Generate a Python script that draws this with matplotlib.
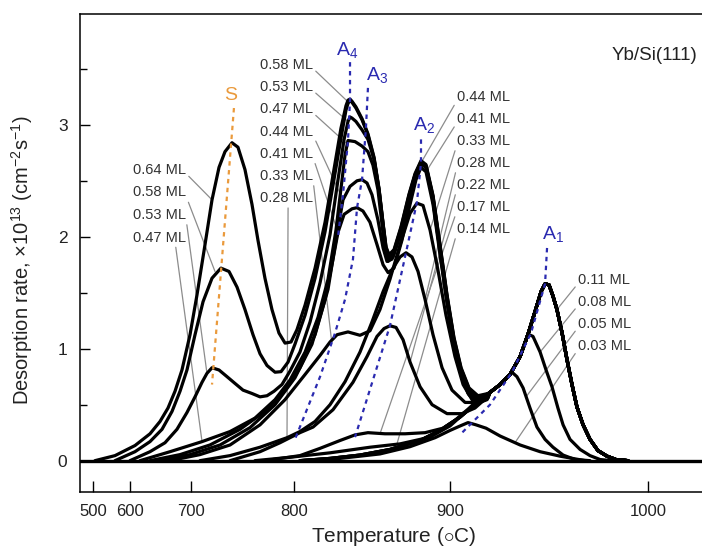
import numpy as np
import matplotlib
matplotlib.use('Agg')
import matplotlib.pyplot as plt
from matplotlib.ticker import MultipleLocator

plt.rcParams['font.family'] = ['Liberation Sans', 'DejaVu Sans']
plt.rcParams['mathtext.fontset'] = 'custom'
plt.rcParams['mathtext.rm'] = 'Liberation Sans'
plt.rcParams['mathtext.it'] = 'Liberation Sans:italic'
plt.rcParams['mathtext.bf'] = 'Liberation Sans:bold'

# ---- TDS spectra: temperature (C) and desorption rate (1e13 cm^-2 s^-1) ----
# A1 leading edge and A1 peak shared by all coverages from 0.11 ML up
a1_edge_T = [803.8, 823.1, 842.3, 861.5, 880.8, 893.6, 905.1, 915.2]
a1_edge_r = [0.0, 0.02, 0.05, 0.10, 0.18, 0.27, 0.39, 0.54]
a1_tail_T = [920.2, 925.3, 930.3, 935.4, 939.4, 942.9, 946.0, 948.0, 950.0, 952.0,
             954.0, 956.6, 959.1, 961.6, 964.1, 967.2, 970.7, 974.7, 979.3, 983.8, 989.9]
a1_tail_r = [0.61, 0.68, 0.77, 0.93, 1.13, 1.33, 1.51, 1.58, 1.57, 1.47,
             1.35, 1.14, 0.90, 0.68, 0.48, 0.32, 0.19, 0.09, 0.04, 0.01, 0.0]

t_003 = [803.8, 829.5, 855.1, 874.4, 890.4, 900.0, 905.1, 909.1, 913.1, 918.2,
         925.3, 935.4, 945.5, 955.6, 968.2]
r_003 = [0.0, 0.02, 0.06, 0.125, 0.205, 0.27, 0.31, 0.34, 0.32, 0.29,
         0.22, 0.14, 0.08, 0.04, 0.0]

t_005 = a1_edge_T + [920.2, 925.3, 928.3, 931.3, 933.8, 936.9, 940.4, 943.9, 948.0,
                     952.0, 957.1, 963.1, 970.7]
r_005 = a1_edge_r + [0.61, 0.68, 0.73, 0.79, 0.75, 0.65, 0.47, 0.30, 0.19,
                     0.12, 0.05, 0.01, 0.0]

t_008 = a1_edge_T + [920.2, 925.3, 930.3, 935.4, 939.4, 941.9, 945.5, 948.5, 951.5,
                     954.5, 957.1, 960.6, 965.7, 970.7, 975.8, 981.8]
r_008 = a1_edge_r + [0.61, 0.68, 0.77, 0.93, 1.13, 1.11, 0.97, 0.81, 0.66,
                     0.47, 0.32, 0.19, 0.10, 0.045, 0.01, 0.0]

t_011 = a1_edge_T + a1_tail_T
r_011 = a1_edge_r + a1_tail_r

t_014 = [762.1, 796.1, 823.1, 848.7, 868.0, 887.2, 900.0, 907.6, 915.2] + a1_tail_T
r_014 = [0.0, 0.03, 0.07, 0.12, 0.15, 0.21, 0.31, 0.43, 0.55] + a1_tail_r

t_017 = [771.8, 803.8, 816.7, 829.5, 839.1, 847.4, 858.3, 871.2, 884.0, 895.5,
         902.5, 909.1, 915.2] + a1_tail_T
r_017 = [0.0, 0.045, 0.11, 0.18, 0.23, 0.25, 0.24, 0.24, 0.25, 0.29,
         0.36, 0.46, 0.56] + a1_tail_r

t_022 = [737.9, 767.0, 786.4, 803.8, 812.2, 825.0, 837.8, 846.8, 853.2, 857.7,
         861.5, 865.4, 869.9, 874.4, 880.8, 888.5, 898.1, 906.1, 912.6, 917.7] + a1_tail_T
r_022 = [0.0, 0.08, 0.16, 0.25, 0.30, 0.455, 0.70, 0.93, 1.11, 1.18,
         1.205, 1.19, 1.08, 0.88, 0.66, 0.50, 0.42, 0.42, 0.47, 0.55] + a1_tail_r

t_028 = [708.7, 737.9, 767.0, 793.2, 803.8, 813.5, 823.1, 832.7, 842.3, 850.0,
         857.1, 863.5, 868.0, 871.8, 875.6, 879.5, 884.0, 889.1, 894.9, 901.0,
         907.6, 914.1, 918.7] + a1_tail_T
r_028 = [0.0, 0.045, 0.12, 0.205, 0.26, 0.35, 0.50, 0.705, 0.97, 1.24,
         1.51, 1.72, 1.82, 1.857, 1.82, 1.69, 1.44, 1.125, 0.83, 0.63,
         0.52, 0.52, 0.56] + a1_tail_r

t_033 = [665.6, 708.7, 737.9, 767.0, 791.3, 807.1, 816.7, 823.1, 827.6, 834.6,
         842.3, 848.7, 855.1, 861.5, 868.0, 874.4, 878.8, 882.7, 887.2, 892.3,
         897.4, 902.5, 906.6, 911.1, 916.2] + a1_tail_T
r_033 = [0.0, 0.054, 0.14, 0.32, 0.545, 0.77, 0.94, 1.06, 1.125, 1.15,
         1.12, 1.16, 1.35, 1.62, 1.93, 2.21, 2.30, 2.28, 2.06, 1.70,
         1.30, 0.93, 0.68, 0.545, 0.54] + a1_tail_r

t_041 = [649.2, 698.4, 728.2, 757.3, 781.6, 800.6, 811.5, 819.9, 825.0, 828.2,
         832.1, 837.2, 840.4, 844.2, 848.7, 853.2, 857.1, 860.3, 864.1, 869.2,
         874.4, 878.2, 881.4, 884.6, 889.1, 893.6, 898.1, 902.0, 905.6, 909.6,
         914.1, 918.7] + a1_tail_T
r_041 = [0.0, 0.054, 0.14, 0.295, 0.50, 0.74, 1.04, 1.44, 1.80, 2.04,
         2.20, 2.25, 2.26, 2.23, 2.13, 1.93, 1.75, 1.68, 1.72, 1.97,
         2.29, 2.51, 2.62, 2.58, 2.29, 1.84, 1.41, 1.04, 0.77, 0.59,
         0.52, 0.55] + a1_tail_r

t_044 = [632.8, 682.0, 718.4, 747.6, 771.8, 791.3, 803.8, 813.5, 821.8, 826.9,
         831.4, 835.9, 840.4, 843.6, 846.8, 850.0, 853.8, 857.1, 859.6, 862.8,
         868.0, 873.1, 877.6, 881.4, 884.6, 888.5, 893.0, 897.4, 901.5, 905.1,
         909.1, 913.6, 918.7] + a1_tail_T
r_044 = [0.0, 0.054, 0.14, 0.28, 0.44, 0.63, 0.83, 1.125, 1.53, 1.97,
         2.33, 2.45, 2.50, 2.51, 2.48, 2.375, 2.15, 1.90, 1.78, 1.80,
         2.01, 2.29, 2.53, 2.66, 2.625, 2.375, 1.93, 1.48, 1.08, 0.795,
         0.60, 0.51, 0.545] + a1_tail_r

t_047 = [616.4, 665.6, 710.7, 737.9, 762.1, 781.6, 796.1, 807.1, 815.4, 821.8,
         826.9, 830.8, 832.7, 834.6, 839.1, 843.6, 847.4, 850.6, 853.8, 856.4,
         858.3, 860.3, 863.5, 868.6, 873.7, 877.6, 881.4, 884.6, 889.1, 893.6,
         898.1, 902.0, 905.6, 909.6, 914.1, 919.2] + a1_tail_T
r_047 = [0.0, 0.08, 0.17, 0.26, 0.38, 0.545, 0.72, 0.97, 1.28, 1.62,
         2.06, 2.51, 2.73, 2.86, 2.85, 2.81, 2.76, 2.64, 2.42, 2.11,
         1.88, 1.78, 1.82, 2.05, 2.33, 2.54, 2.65, 2.62, 2.33, 1.88,
         1.44, 1.05, 0.79, 0.61, 0.54, 0.56] + a1_tail_r

t_053 = [600.0, 632.8, 657.4, 677.0, 693.4, 703.9, 710.7, 715.5, 720.4, 727.2,
         735.0, 742.7, 750.5, 759.2, 767.0, 773.8, 780.6, 788.3, 796.1, 803.8,
         810.3, 816.7, 823.1, 828.2, 832.1, 834.6, 835.9, 837.2, 839.7, 843.6,
         847.4, 851.3, 854.5, 857.1, 859.0, 860.9, 864.1, 868.6, 873.7, 877.6,
         881.4, 884.6, 889.1, 893.6, 898.1, 902.0, 905.6, 909.6, 914.1, 919.2] + a1_tail_T
r_053 = [0.0, 0.08, 0.16, 0.28, 0.43, 0.57, 0.70, 0.78, 0.83, 0.81,
         0.75, 0.69, 0.63, 0.60, 0.57, 0.58, 0.62, 0.68, 0.80, 0.97,
         1.24, 1.59, 2.02, 2.51, 2.87, 3.03, 3.07, 3.06, 3.03, 2.955,
         2.87, 2.69, 2.42, 2.11, 1.88, 1.80, 1.85, 2.06, 2.35, 2.55,
         2.66, 2.625, 2.35, 1.90, 1.455, 1.07, 0.80, 0.625, 0.555, 0.57] + a1_tail_r

t_058 = [559.5, 608.2, 632.8, 652.5, 668.9, 682.0, 693.4, 703.9, 711.7, 720.4,
         729.1, 736.9, 744.7, 752.4, 760.2, 767.0, 773.8, 781.6, 787.4, 794.2,
         800.6, 807.1, 813.5, 819.9, 825.6, 830.1, 833.3, 834.6, 835.9, 837.2,
         839.7, 843.6, 847.4, 851.3, 854.5, 857.1, 859.0, 860.9, 864.1, 868.6,
         873.7, 877.6, 881.4, 884.6, 889.1, 893.6, 898.1, 902.0, 905.6, 909.6,
         914.1, 919.2] + a1_tail_T
r_058 = [0.0, 0.08, 0.17, 0.28, 0.44, 0.62, 0.81, 1.125, 1.42, 1.63,
         1.72, 1.69, 1.55, 1.35, 1.125, 0.955, 0.85, 0.79, 0.795, 0.88,
         1.04, 1.30, 1.63, 2.045, 2.51, 2.88, 3.13, 3.19, 3.22, 3.20,
         3.15, 3.045, 2.91, 2.70, 2.42, 2.11, 1.90, 1.83, 1.875, 2.08,
         2.37, 2.555, 2.67, 2.635, 2.36, 1.92, 1.47, 1.09, 0.82, 0.64,
         0.57, 0.59] + a1_tail_r

t_064 = [505.4, 559.5, 608.2, 632.8, 649.2, 662.3, 673.8, 685.2, 698.4, 705.8,
         713.6, 720.4, 727.2, 733.0, 739.8, 745.6, 752.4, 759.2, 765.0, 771.8,
         778.6, 785.4, 791.3, 797.1, 801.9, 807.1, 813.5, 819.9, 825.6, 830.1,
         833.3, 834.6, 835.9, 837.2, 839.7, 843.6, 847.4, 851.3, 854.5, 857.1,
         859.0, 860.9, 864.1, 868.6, 873.7, 877.6, 881.4, 884.6, 889.1, 893.6,
         898.1, 902.0, 905.6, 909.6, 914.1, 919.2] + a1_tail_T
r_064 = [0.0, 0.045, 0.135, 0.24, 0.35, 0.47, 0.62, 0.81, 1.125, 1.48,
         1.93, 2.33, 2.62, 2.76, 2.84, 2.80, 2.60, 2.29, 1.97, 1.63,
         1.35, 1.14, 1.05, 1.06, 1.17, 1.39, 1.72, 2.13, 2.60, 2.97,
         3.17, 3.22, 3.23, 3.21, 3.16, 3.055, 2.92, 2.71, 2.43, 2.12,
         1.91, 1.84, 1.885, 2.09, 2.38, 2.565, 2.68, 2.645, 2.37, 1.93,
         1.48, 1.10, 0.83, 0.65, 0.58, 0.60] + a1_tail_r

spectra = [(t_003, r_003), (t_005, r_005), (t_008, r_008), (t_011, r_011),
           (t_014, r_014), (t_017, r_017), (t_022, r_022), (t_028, r_028),
           (t_033, r_033), (t_041, r_041), (t_044, r_044), (t_047, r_047),
           (t_053, r_053), (t_058, r_058), (t_064, r_064)]

# peak-position guides (S, A4, A3, A2, A1)
s_guide_T = [741.7, 720.4]
s_guide_r = [3.15, 0.68]
a4_guide_T = [835.9, 835.9, 834.6, 831.4, 828.2]
a4_guide_r = [3.56, 3.22, 2.86, 2.375, 2.0]
a3_guide_T = [847.4, 846.1, 843.6, 840.4, 837.8, 832.7, 826.3, 816.7, 800.6]
a3_guide_r = [3.33, 2.97, 2.51, 2.26, 1.80, 1.44, 1.14, 0.75, 0.19]
a2_guide_T = [881.4, 881.4, 878.8, 871.8, 861.5, 839.1]
a2_guide_r = [2.87, 2.66, 2.31, 1.86, 1.205, 0.21]
a1_guide_T = [949.0, 948.0, 940.9, 931.3, 920.2, 906.1]
a1_guide_r = [1.90, 1.58, 1.14, 0.79, 0.50, 0.25]

# coverage labels: text, leader target (T, rate)
mid_labels = ['0.58 ML', '0.53 ML', '0.47 ML', '0.44 ML', '0.41 ML', '0.33 ML', '0.28 ML']
mid_T = [835.0, 834.6, 834.0, 831.4, 828.2, 824.0, 793.2]
mid_r = [3.20, 3.03, 2.83, 2.33, 2.04, 1.08, 0.205]
s_labels = ['0.64 ML', '0.58 ML', '0.53 ML', '0.47 ML']
s_T = [720.4, 723.3, 715.5, 710.7]
s_r = [2.33, 1.69, 0.78, 0.17]
a2_labels = ['0.44 ML', '0.41 ML', '0.33 ML', '0.28 ML', '0.22 ML', '0.17 ML', '0.14 ML']
a2_T = [881.4, 884.6, 887.2, 884.0, 874.4, 855.1, 866.0]
a2_r = [2.66, 2.58, 2.06, 1.44, 0.88, 0.24, 0.15]
a1_labels = ['0.11 ML', '0.08 ML', '0.05 ML', '0.03 ML']
a1_T = [954.0, 945.5, 938.4, 932.8]
a1_r = [1.35, 0.97, 0.57, 0.16]

# temperature axis is not linear: tick temperatures and their spacing along the axis
scale_T = [440, 500, 600, 700, 800, 900, 1000, 1040]
scale_pos = [75, 93, 130, 191, 294, 450, 648, 730]


def t_forward(t):
    return np.interp(t, scale_T, scale_pos)


def t_inverse(p):
    return np.interp(p, scale_pos, scale_T)


W, H = 702, 552
fig = plt.figure(figsize=(W / 100, H / 100), dpi=100)
ax = fig.add_axes([80 / W, 60 / H, 624 / W, 478 / H])
ax.set_xscale('function', functions=(t_forward, t_inverse))
ax.set_xlim(456.7, 1027.3)
ax.set_ylim(-0.28, 3.99)

ax.axhline(0, color='black', lw=2.4, zorder=3)
for T, r in spectra:
    ax.plot(T, r, color='black', lw=2.3, solid_joinstyle='round',
            solid_capstyle='round', zorder=3)

blue = '#2a2ab0'
orange = '#ea9a3c'
dots = (0, (2.0, 2.0))
ax.plot(s_guide_T, s_guide_r, color=orange, lw=1.6, ls=dots, zorder=4)
for gT, gr in [(a4_guide_T, a4_guide_r), (a3_guide_T, a3_guide_r),
               (a2_guide_T, a2_guide_r), (a1_guide_T, a1_guide_r)]:
    ax.plot(gT, gr, color=blue, lw=1.6, ls=dots, zorder=4)


def note(label, T, r, x, y, ha, rel):
    ax.annotate(label, xy=(T, r), xytext=(x, H - y), textcoords='figure pixels',
                ha=ha, va='center', fontsize=10.5, color='#333333', zorder=2,
                arrowprops=dict(arrowstyle='-', color='#8c8c8c', lw=0.9,
                                shrinkA=0, shrinkB=0, relpos=rel))


for i, lab in enumerate(mid_labels):
    rel = (0.53, 0.0) if lab == '0.28 ML' else (1.0, 0.25)
    note(lab, mid_T[i], mid_r[i], 313, 65 + 22.2 * i, 'right', rel)
for i, lab in enumerate(s_labels):
    rel = (0.8, 0.0) if i == 3 else (1.0, 0.25)
    note(lab, s_T[i], s_r[i], 186, 170 + 22.5 * i, 'right', rel)
for i, lab in enumerate(a2_labels):
    note(lab, a2_T[i], a2_r[i], 457, 97 + 22 * i, 'left', (0.0, 0.25))
for i, lab in enumerate(a1_labels):
    note(lab, a1_T[i], a1_r[i], 578, 280 + 22 * i, 'left', (0.0, 0.25))


def fig_text(x, y, s, **kw):
    fig.text(x / W, 1 - y / H, s, **kw)


fig_text(231, 96, 'S', color=orange, fontsize=14, ha='center', va='center')
fig_text(347, 50, r'A$_4$', color=blue, fontsize=14, ha='center', va='center')
fig_text(377, 75, r'A$_3$', color=blue, fontsize=14, ha='center', va='center')
fig_text(424, 125, r'A$_2$', color=blue, fontsize=14, ha='center', va='center')
fig_text(553, 234, r'A$_1$', color=blue, fontsize=14, ha='center', va='center')
fig_text(697, 55, 'Yb/Si(111)', color='#222222', fontsize=13.5, ha='right', va='center')

fig_text(22, 260, r'Desorption rate, $\times$10$^{13}$ (cm$^{-2}$s$^{-1}$)',
         rotation=90, ha='center', va='center', fontsize=14.5, color='#222222')
fig_text(394, 537, r'Temperature ($\circ$C)', ha='center', va='center',
         fontsize=15, color='#222222')

ax.set_xticks([500, 600, 700, 800, 900, 1000])
ax.set_xticklabels(['500', '600', '700', '800', '900', '1000'])
ax.set_yticks([0, 1, 2, 3])
ax.yaxis.set_minor_locator(MultipleLocator(0.5))
ax.tick_params(axis='x', which='major', direction='in', length=8, width=1,
               labelsize=12, pad=9, labelcolor='#222222')
ax.tick_params(axis='y', which='major', direction='in', length=7, width=1,
               labelsize=12.5, pad=9, labelcolor='#222222')
ax.tick_params(axis='y', which='minor', direction='in', length=5, width=1)
for side in ['left', 'bottom', 'top', 'right']:
    ax.spines[side].set_linewidth(1.1)

fig.savefig('out.png', dpi=100)
